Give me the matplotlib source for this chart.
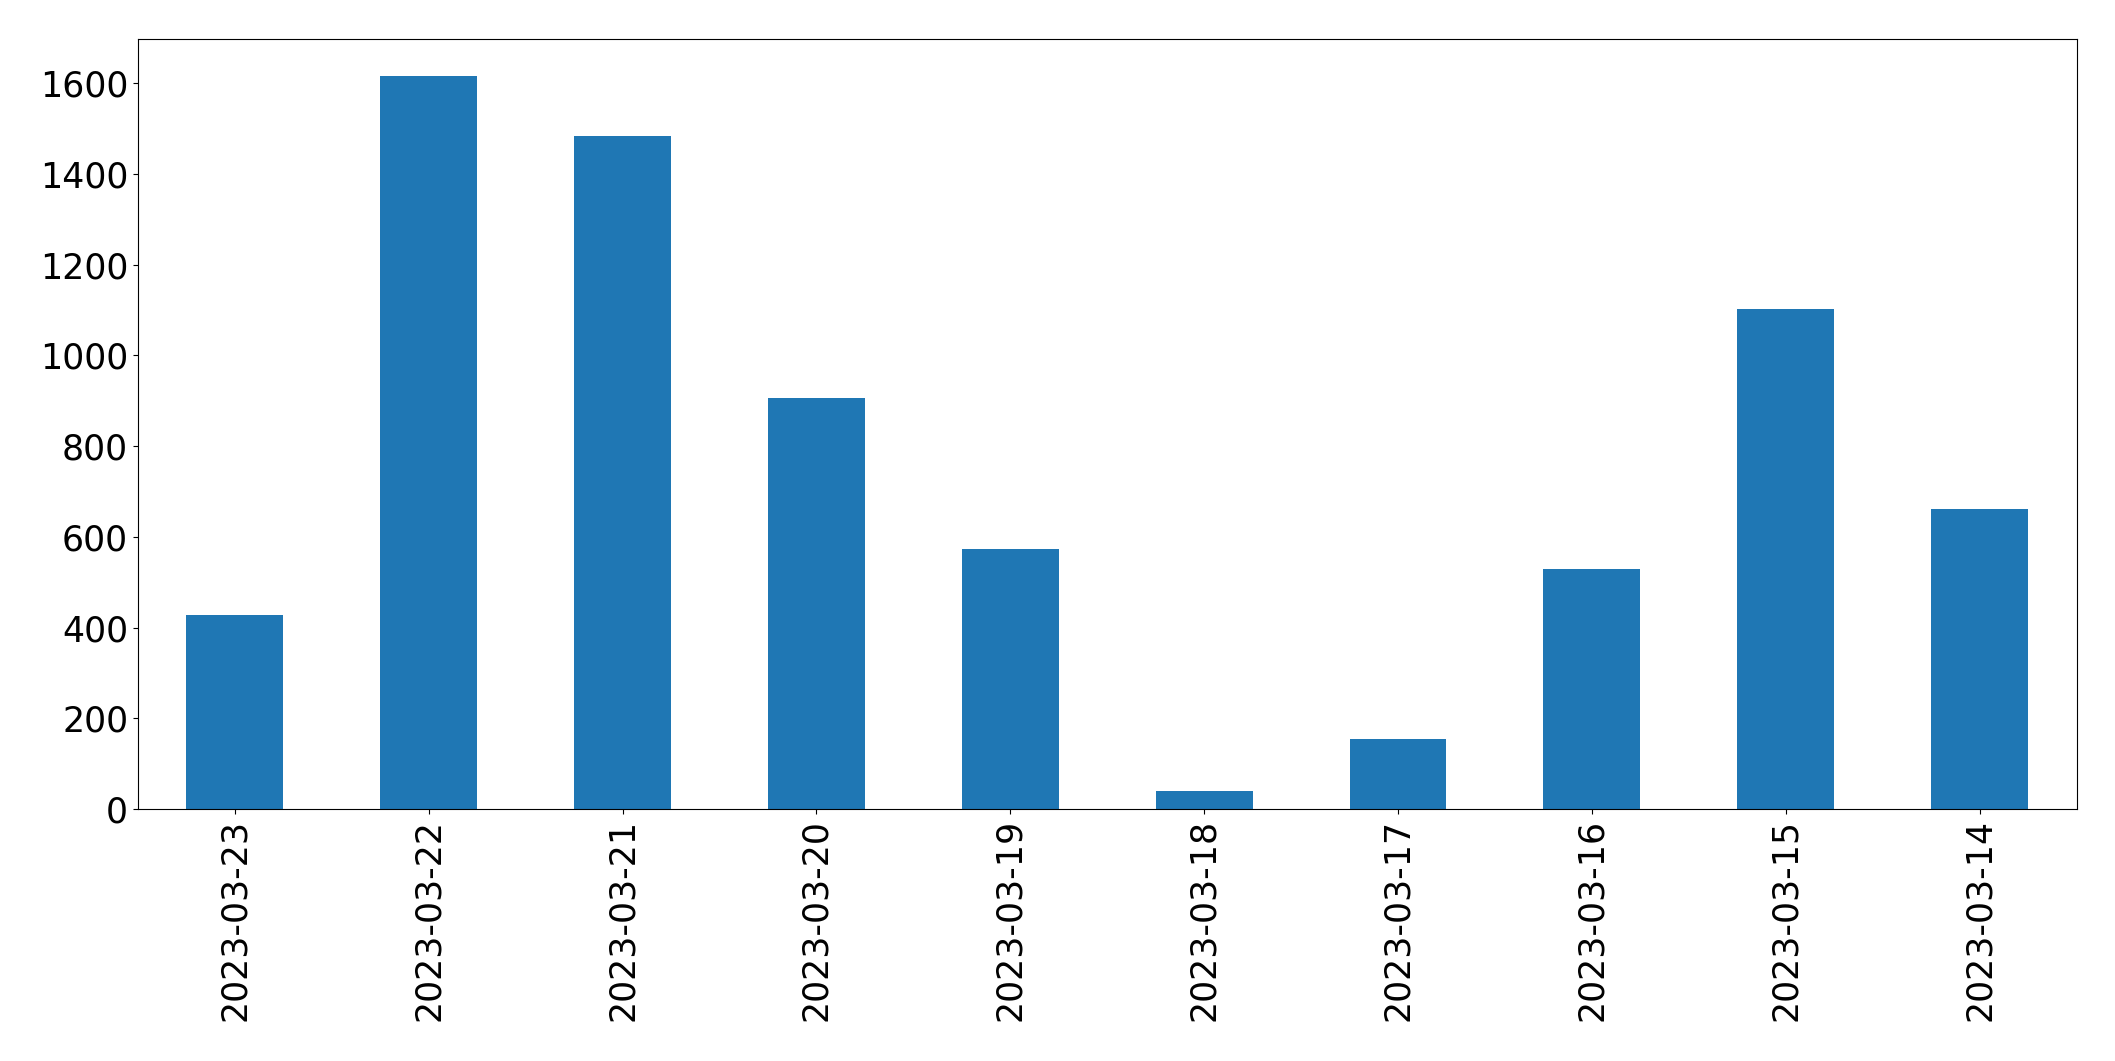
import numpy as np
import matplotlib
matplotlib.use("Agg")
import matplotlib.pyplot as plt

# daily counts, newest first (as in the original pandas bar plot)
dates = ["2023-03-23", "2023-03-22", "2023-03-21", "2023-03-20", "2023-03-19",
         "2023-03-18", "2023-03-17", "2023-03-16", "2023-03-15", "2023-03-14"]
counts = [428, 1616, 1484, 906, 573, 40, 154, 529, 1103, 662]

fig, ax = plt.subplots(figsize=(21.15, 10.61), dpi=100)
fig.subplots_adjust(left=0.0652, right=0.9818, top=0.963, bottom=0.2375)

x = np.arange(len(dates))
ax.bar(x, counts, width=0.5, color="#1f77b4")
ax.set_xlim(-0.5, len(dates) - 0.5)
ax.set_ylim(0, max(counts) * 1.05)
ax.set_yticks(np.arange(0, 1601, 200))
ax.set_xticks(x)
ax.set_xticklabels(dates, rotation=90)
ax.tick_params(axis="both", labelsize=25)

fig.savefig("out.png", dpi=100)
